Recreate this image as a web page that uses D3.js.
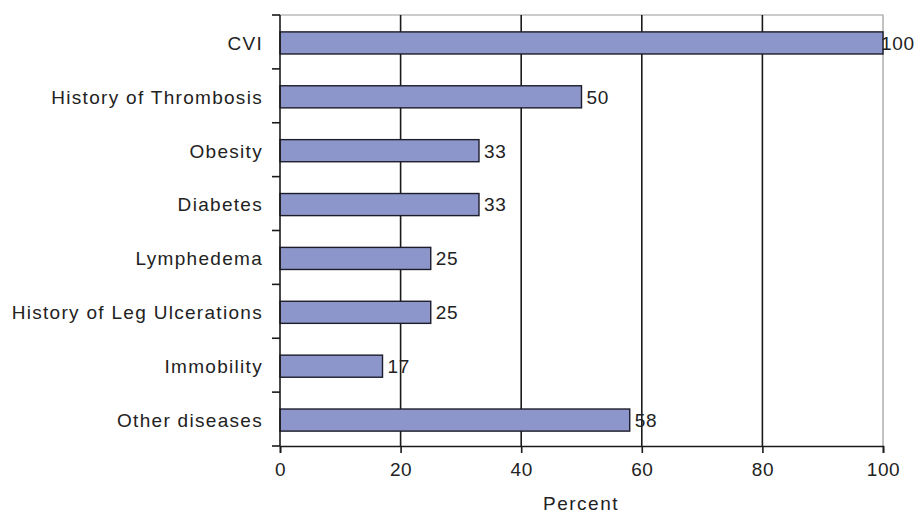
<!DOCTYPE html>
<html>
<head>
<meta charset="utf-8">
<script src="https://cdn.jsdelivr.net/npm/d3@7"></script>
<style>
  html, body { margin: 0; padding: 0; background: #fff; }
  svg { display: block; }
  text { font-family: "Liberation Sans", Arial, sans-serif; fill: #222; }
</style>
</head>
<body>
<svg id="chart" width="916" height="515"></svg>
<script>
// Risk factors and their share of patients (percent)
const categories = [
  "CVI",
  "History of Thrombosis",
  "Obesity",
  "Diabetes",
  "Lymphedema",
  "History of Leg Ulcerations",
  "Immobility",
  "Other diseases"
];
const percentValues = [100, 50, 33, 33, 25, 25, 17, 58];
const xTickValues = [0, 20, 40, 60, 80, 100];
const xAxisTitle = "Percent";

const data = categories.map((c, i) => ({ category: c, value: percentValues[i] }));

const W = 916;
const svg = d3.select("#chart");
const plot = { left: 280, right: 883, top: 15, bottom: 446 };

const x = d3.scaleLinear().domain([0, 100]).range([plot.left, plot.right]);
const yBand = d3.scaleBand().domain(categories).range([plot.top, plot.bottom])
  .paddingInner(0.59).paddingOuter(0.295);
const yStep = d3.scaleBand().domain(categories).range([plot.top, plot.bottom]).padding(0);

// Plot frame: light top and right edges
svg.append("path")
  .attr("d", `M${plot.left},${plot.top}H${plot.right}V${plot.bottom}`)
  .attr("fill", "none").attr("stroke", "#9a9a9a").attr("stroke-width", 1.2);

// Vertical gridlines
svg.append("g").selectAll("line")
  .data(xTickValues.filter(v => v > 0 && v < 100))
  .join("line")
  .attr("x1", d => x(d)).attr("x2", d => x(d))
  .attr("y1", plot.top).attr("y2", plot.bottom)
  .attr("stroke", "#1a1a1a").attr("stroke-width", 1.6);

// Bars
svg.append("g").selectAll("rect")
  .data(data)
  .join("rect")
  .attr("x", x(0))
  .attr("y", d => yBand(d.category) + 1)
  .attr("width", d => x(d.value) - x(0))
  .attr("height", yBand.bandwidth())
  .attr("fill", "#8d96ca")
  .attr("stroke", "#1c1c2a")
  .attr("stroke-width", 1.4);

// Value labels; a label that would run past the edge is pulled back inside
const valueLabels = svg.append("g").selectAll("text")
  .data(data)
  .join("text")
  .attr("y", d => yBand(d.category) + 1 + yBand.bandwidth() / 2)
  .attr("dy", "0.36em")
  .attr("font-size", 19)
  .attr("letter-spacing", 0.8)
  .text(d => d.value);
valueLabels.each(function (d) {
  const t = d3.select(this);
  const w = this.getComputedTextLength();
  let px = x(d.value) + 5;
  if (px + w > W - 1) px = W - 1 - w;
  t.attr("x", px);
});

// X axis
const xAxis = d3.axisBottom(x).tickValues(xTickValues).tickSize(7).tickPadding(10);
const gx = svg.append("g").attr("transform", `translate(0,${plot.bottom})`).call(xAxis);
gx.select(".domain").attr("stroke", "#1a1a1a").attr("stroke-width", 1.6);
gx.selectAll(".tick line").attr("stroke", "#1a1a1a").attr("stroke-width", 1.6);
gx.selectAll(".tick text")
  .attr("font-size", 19).attr("letter-spacing", 0.6)
  .attr("font-family", "Liberation Sans, Arial, sans-serif").attr("fill", "#222");

// Y axis: ticks sit on category boundaries
const boundaries = categories.map(c => yStep(c)).concat([plot.bottom]);
const gy = svg.append("g");
gy.append("line")
  .attr("x1", plot.left).attr("x2", plot.left)
  .attr("y1", plot.top).attr("y2", plot.bottom)
  .attr("stroke", "#1a1a1a").attr("stroke-width", 1.6);
gy.selectAll("line.tick")
  .data(boundaries)
  .join("line")
  .attr("class", "tick")
  .attr("x1", plot.left - 8).attr("x2", plot.left)
  .attr("y1", d => d).attr("y2", d => d)
  .attr("stroke", "#1a1a1a").attr("stroke-width", 1.6);
gy.selectAll("text")
  .data(categories)
  .join("text")
  .attr("x", 263)
  .attr("y", d => yBand(d) + 1 + yBand.bandwidth() / 2)
  .attr("dy", "0.36em")
  .attr("text-anchor", "end")
  .attr("font-size", 19)
  .attr("letter-spacing", 1.3)
  .text(d => d);

// X axis title
svg.append("text")
  .attr("x", 581)
  .attr("y", 510)
  .attr("text-anchor", "middle")
  .attr("font-size", 19)
  .attr("letter-spacing", 1.5)
  .text(xAxisTitle);
</script>
</body>
</html>
